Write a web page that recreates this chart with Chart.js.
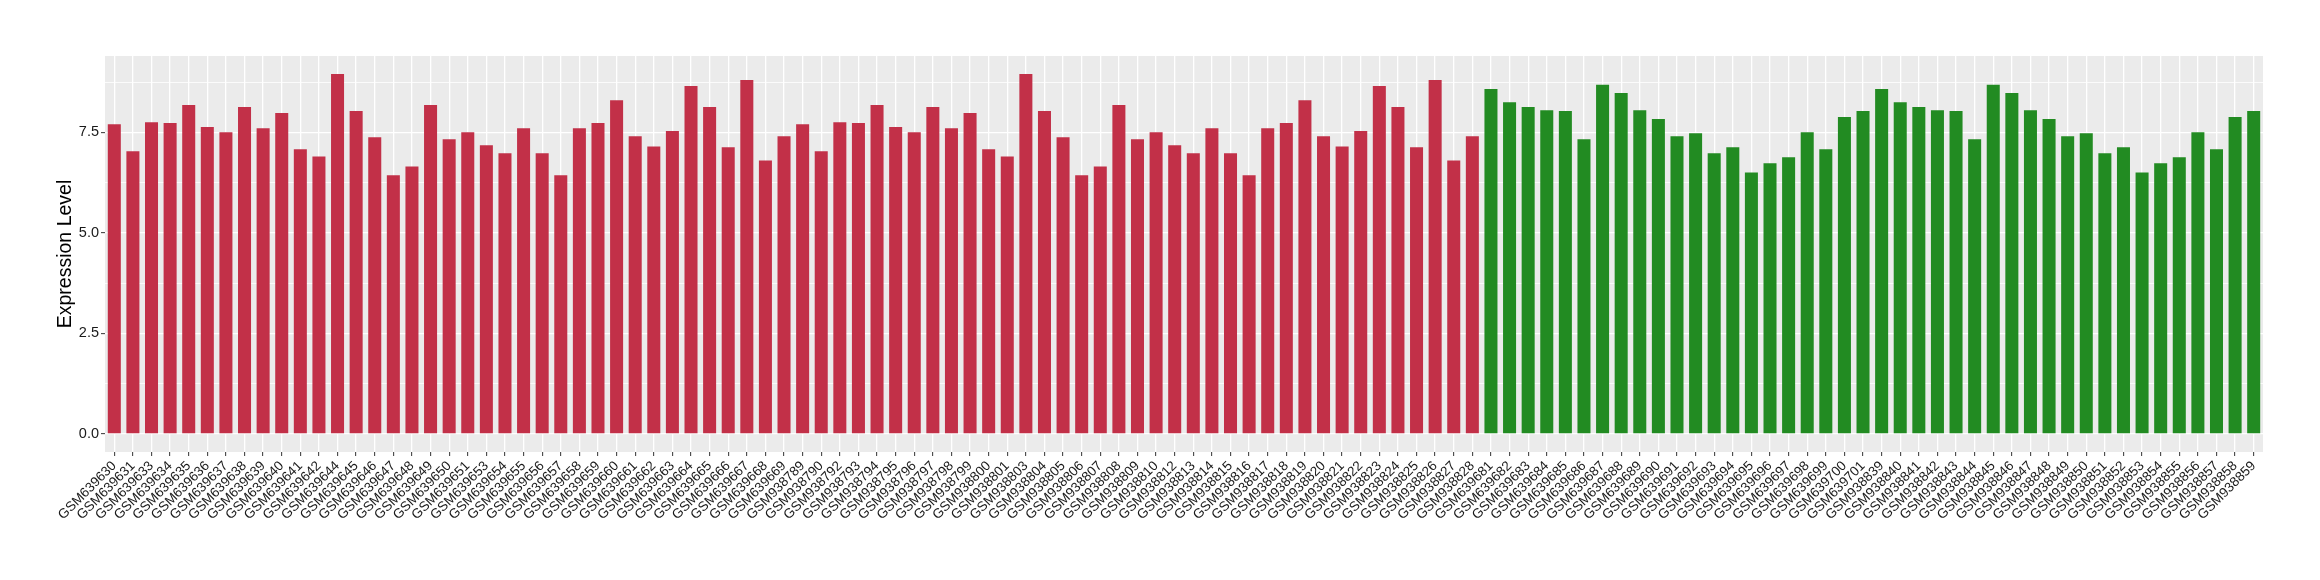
<!DOCTYPE html>
<html>
<head>
<meta charset="utf-8">
<title>Expression Level</title>
<script src="https://cdn.jsdelivr.net/npm/chart.js@4.4.1/dist/chart.umd.min.js"></script>
<style>
  html, body { margin: 0; padding: 0; background: #ffffff; }
  .wrap { width: 2320px; height: 580px; position: relative; }
</style>
</head>
<body>
<div class="wrap"><canvas class="expression-chart"></canvas></div>
<script>
const redSamples = [
  "GSM639630", "GSM639631", "GSM639633", "GSM639634", "GSM639635", "GSM639636",
  "GSM639637", "GSM639638", "GSM639639", "GSM639640", "GSM639641", "GSM639642",
  "GSM639644", "GSM639645", "GSM639646", "GSM639647", "GSM639648", "GSM639649",
  "GSM639650", "GSM639651", "GSM639653", "GSM639654", "GSM639655", "GSM639656",
  "GSM639657", "GSM639658", "GSM639659", "GSM639660", "GSM639661", "GSM639662",
  "GSM639663", "GSM639664", "GSM639665", "GSM639666", "GSM639667", "GSM639668",
  "GSM639669",
  "GSM938789", "GSM938790", "GSM938792", "GSM938793", "GSM938794", "GSM938795",
  "GSM938796", "GSM938797", "GSM938798", "GSM938799", "GSM938800", "GSM938801",
  "GSM938803", "GSM938804", "GSM938805", "GSM938806", "GSM938807", "GSM938808",
  "GSM938809", "GSM938810", "GSM938812", "GSM938813", "GSM938814", "GSM938815",
  "GSM938816", "GSM938817", "GSM938818", "GSM938819", "GSM938820", "GSM938821",
  "GSM938822", "GSM938823", "GSM938824", "GSM938825", "GSM938826", "GSM938827",
  "GSM938828",
];

const redValues = [
  7.70, 7.03, 7.75, 7.73, 8.18, 7.63, 7.50, 8.13, 7.60, 7.98, 7.08, 6.90,
  8.95, 8.03, 7.38, 6.43, 6.65, 8.18, 7.33, 7.50, 7.18, 6.98, 7.60, 6.98,
  6.43, 7.60, 7.73, 8.30, 7.40, 7.15, 7.53, 8.65, 8.13, 7.13, 8.80, 6.80,
  7.40,
  7.70, 7.03, 7.75, 7.73, 8.18, 7.63, 7.50, 8.13, 7.60, 7.98, 7.08, 6.90,
  8.95, 8.03, 7.38, 6.43, 6.65, 8.18, 7.33, 7.50, 7.18, 6.98, 7.60, 6.98,
  6.43, 7.60, 7.73, 8.30, 7.40, 7.15, 7.53, 8.65, 8.13, 7.13, 8.80, 6.80,
  7.40,
];

const greenSamples = [
  "GSM639681", "GSM639682", "GSM639683", "GSM639684", "GSM639685", "GSM639686",
  "GSM639687", "GSM639688", "GSM639689", "GSM639690", "GSM639691", "GSM639692",
  "GSM639693", "GSM639694", "GSM639695", "GSM639696", "GSM639697", "GSM639698",
  "GSM639699", "GSM639700", "GSM639701",
  "GSM938839", "GSM938840", "GSM938841", "GSM938842", "GSM938843", "GSM938844",
  "GSM938845", "GSM938846", "GSM938847", "GSM938848", "GSM938849", "GSM938850",
  "GSM938851", "GSM938852", "GSM938853", "GSM938854", "GSM938855", "GSM938856",
  "GSM938857", "GSM938858", "GSM938859",
];

const greenValues = [
  8.58, 8.25, 8.13, 8.05, 8.03, 7.33, 8.68, 8.48, 8.05, 7.83, 7.40, 7.48,
  6.98, 7.13, 6.50, 6.73, 6.88, 7.50, 7.08, 7.88, 8.03,
  8.58, 8.25, 8.13, 8.05, 8.03, 7.33, 8.68, 8.48, 8.05, 7.83, 7.40, 7.48,
  6.98, 7.13, 6.50, 6.73, 6.88, 7.50, 7.08, 7.88, 8.03,
];

const yMajorTicks = [0, 2.5, 5, 7.5];
const yMinorTicks = [1.25, 3.75, 6.25, 8.75];

const RED = "rgb(194, 48, 72)";
const GREEN = "rgb(34, 139, 34)";
const FONT = "'Liberation Sans', Arial, Helvetica, sans-serif";

const labels = [...redSamples, ...greenSamples];
const values = [...redValues, ...greenValues];
const colors = [
  ...redSamples.map(() => RED),
  ...greenSamples.map(() => GREEN),
];

const isMajor = (v) => yMajorTicks.some((m) => Math.abs(m - v) < 1e-6);

// grey ggplot-style panel behind the grid
const panelBackground = {
  id: "panelBackground",
  beforeDraw(chart) {
    const { ctx, chartArea } = chart;
    ctx.save();
    ctx.fillStyle = "#EBEBEB";
    ctx.fillRect(
      chartArea.left,
      chartArea.top,
      chartArea.right - chartArea.left,
      chartArea.bottom - chartArea.top
    );
    ctx.restore();
  },
};

const ctx = document.querySelector(".expression-chart").getContext("2d");
const config = {
  type: "bar",
  data: {
    labels: labels,
    datasets: [
      {
        label: "Expression Level",
        data: values,
        backgroundColor: colors,
        borderWidth: 0,
        barPercentage: 0.7,
        categoryPercentage: 1.0,
      },
    ],
  },
  options: {
    responsive: true,
    maintainAspectRatio: false,
    animation: false,
    layout: {
      padding: { top: 56, right: 57, bottom: 0, left: 0 },
    },
    scales: {
      x: {
        offset: true,
        border: { display: false },
        grid: {
          offset: false,
          color: "#FFFFFF",
          lineWidth: 1.3,
          tickColor: "#333333",
          tickWidth: 1,
          tickLength: 4,
        },
        ticks: {
          autoSkip: false,
          maxRotation: 45,
          minRotation: 45,
          padding: 2,
          color: "#1a1a1a",
          font: { family: FONT, size: 13.5 },
        },
        afterFit(scale) {
          scale.height = 128;
        },
      },
      y: {
        min: -0.4475,
        max: 9.3975,
        border: { display: false },
        afterBuildTicks(scale) {
          scale.ticks = [...yMajorTicks, ...yMinorTicks]
            .sort((a, b) => a - b)
            .map((v) => ({ value: v }));
        },
        grid: {
          color: "#FFFFFF",
          lineWidth: (c) => (c.tick && isMajor(c.tick.value) ? 1.3 : 0.8),
          tickColor: (c) =>
            c.tick && isMajor(c.tick.value) ? "#333333" : "rgba(0,0,0,0)",
          tickWidth: 1,
          tickLength: 4,
        },
        ticks: {
          padding: 2,
          color: "#1a1a1a",
          font: { family: FONT, size: 14.5 },
          callback: (v) => (isMajor(v) ? v.toFixed(1) : ""),
        },
        title: {
          display: true,
          text: "Expression Level",
          color: "#000000",
          font: { family: FONT, size: 19.5 },
          padding: { top: 54, bottom: 0 },
        },
        afterFit(scale) {
          scale.width = 105;
        },
      },
    },
    plugins: {
      legend: { display: false },
      tooltip: { enabled: false },
    },
  },
  plugins: [panelBackground],
};
const chartRender = new Chart(ctx, config);
</script>
</body>
</html>
